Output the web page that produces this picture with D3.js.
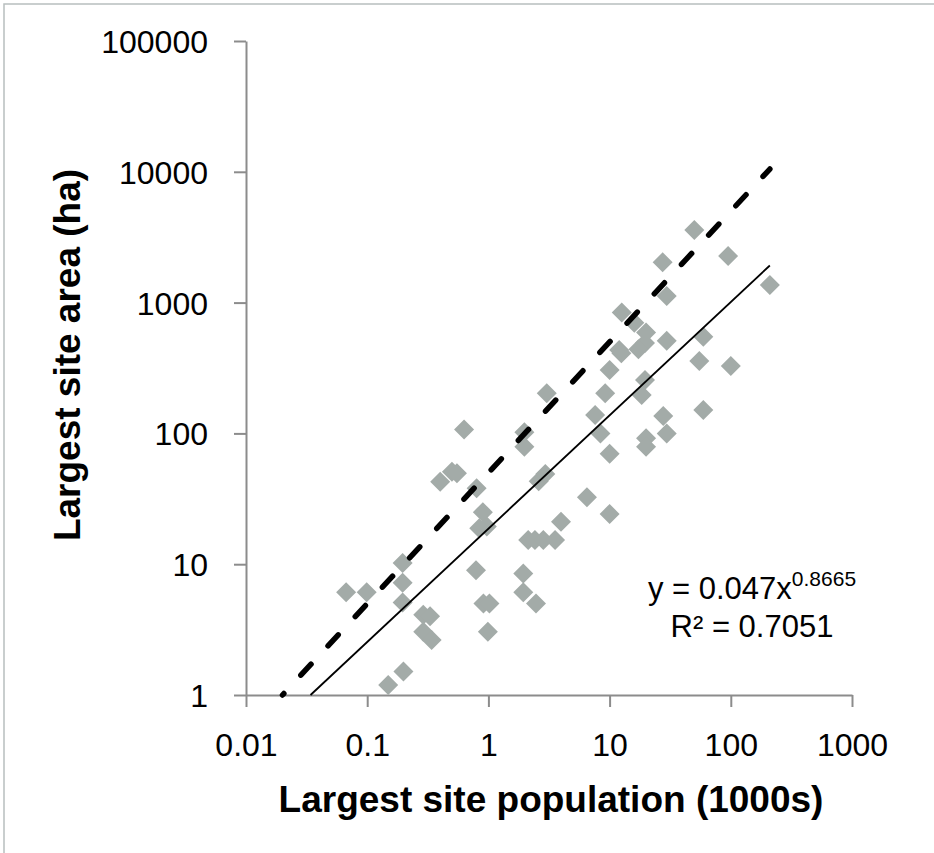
<!DOCTYPE html>
<html>
<head>
<meta charset="utf-8">
<script src="https://cdn.jsdelivr.net/npm/d3@7"></script>
<style>
  body { margin: 0; background: #fff; }
  svg { display: block; font-family: "Liberation Sans", Arial, sans-serif; }
</style>
</head>
<body>
<div id="chart"></div>
<script>
// largest site population (1000s) and area (ha)
var popX = [0.067, 0.099, 0.149, 0.199, 0.196, 0.196, 0.196, 0.29, 0.33, 0.29,
            0.34, 0.40, 0.50, 0.55, 0.63, 0.79, 0.80, 0.90, 0.97, 0.84,
            0.91, 1.02, 0.99, 1.94, 1.94, 2.47, 1.98, 1.98, 2.13, 2.42,
            2.84, 3.55, 3.97, 2.6, 2.95, 3.03, 6.5, 10, 10, 8.4,
            7.6, 9.2, 10, 12.0, 12.5, 12.6, 16, 20, 19.6, 17.3,
            18.4, 19.6, 20, 20, 27.7, 29.6, 29.6, 29.6, 27.4, 50,
            95, 210, 59.3, 55, 59.3, 100];
var areaY = [6.1, 6.1, 1.19, 1.51, 10.2, 7.2, 5.1, 4.1, 4.0, 3.05,
             2.63, 42.7, 51, 49.5, 107, 9.0, 38, 25, 19.4, 18.8,
             5.0, 5.0, 3.05, 8.5, 6.1, 5.0, 102, 79, 15.3, 15.3,
             15.3, 15.3, 21.1, 43, 49, 203, 32.5, 24.2, 70, 100,
             138, 203, 305, 434, 410, 840, 700, 590, 490, 440,
             197, 256, 92, 79, 136, 100, 511, 1123, 2033, 3590,
             2270, 1363, 549, 358, 151, 327];

var xTicks = [0.01, 0.1, 1, 10, 100, 1000];
var yTicks = [1, 10, 100, 1000, 10000, 100000];

// power fit printed on the chart (x in persons) and the 50 persons/ha reference line
var fitCoef = 0.047, fitExp = 0.8665, fitR2 = 0.7051;
var refDensity = 50;

var margin = {top: 41, right: 82, bottom: 158, left: 246};
var width = 934 - margin.left - margin.right;
var height = 853 - margin.top - margin.bottom;

var svg = d3.select("#chart").append("svg")
  .attr("width", 934).attr("height", 853);

// chart frame (only top/left edges fall inside the image)
svg.append("rect")
  .attr("x", 4).attr("y", 4).attr("width", 1000).attr("height", 1000)
  .attr("fill", "none").attr("stroke", "#b8bfbf").attr("stroke-width", 1.5);

var g = svg.append("g").attr("transform", "translate(" + margin.left + "," + margin.top + ")");

var x = d3.scaleLog().domain([0.01, 1000]).range([0, width]);
var y = d3.scaleLog().domain([1, 100000]).range([height, 0]);

var points = popX.map(function(d, i) { return {pop: d, area: areaY[i]}; });

var xAxis = g.append("g").attr("class", "x axis")
  .attr("transform", "translate(0," + height + ")")
  .call(d3.axisBottom(x).tickValues(xTicks).tickFormat(function(d) { return String(d); })
    .tickSize(12).tickSizeOuter(0).tickPadding(26));
var yAxis = g.append("g").attr("class", "y axis")
  .call(d3.axisLeft(y).tickValues(yTicks).tickFormat(d3.format("d"))
    .tickSize(12).tickSizeOuter(0).tickPadding(26));

[xAxis, yAxis].forEach(function(a) {
  a.attr("font-family", null).attr("font-size", null);
  a.selectAll("path, line").attr("stroke", "#8c8c8c").attr("stroke-width", 2);
  a.selectAll("text").attr("fill", "#000").style("font-size", "32px");
});
yAxis.selectAll("text").attr("dy", "0.36em");
xAxis.selectAll("text").attr("dy", "0.71em");

// markers
g.append("g").selectAll("path").data(points).enter().append("path")
  .attr("d", d3.symbol().type(d3.symbolSquare).size(200))
  .attr("transform", function(d) { return "translate(" + x(d.pop) + "," + y(d.area) + ") rotate(45)"; })
  .attr("fill", "#a3aba8");

var maxPop = d3.max(popX);
var line = d3.line().x(function(d) { return x(d[0]); }).y(function(d) { return y(d[1]); });

// dashed reference line: area = 50 * pop
var refStart = 1 / refDensity;
g.append("path")
  .datum([[refStart, 1], [maxPop, refDensity * maxPop]])
  .attr("d", line)
  .attr("fill", "none").attr("stroke", "#000").attr("stroke-width", 5.5)
  .attr("stroke-linecap", "round")
  .attr("stroke-dasharray", "15,25").attr("stroke-dashoffset", 13);

// power trendline
var fit = function(p) { return fitCoef * Math.pow(p * 1000, fitExp); };
var fitStart = Math.pow(1 / fitCoef, 1 / fitExp) / 1000;
g.append("path")
  .datum([[fitStart, 1], [maxPop, fit(maxPop)]])
  .attr("d", line)
  .attr("fill", "none").attr("stroke", "#000").attr("stroke-width", 1.8);

// equation label
var eq = svg.append("text").attr("x", 752).attr("y", 599)
  .attr("text-anchor", "middle").style("font-size", "31px");
eq.append("tspan").text("y = " + fitCoef + "x");
eq.append("tspan").attr("dy", -13).style("font-size", "21px").text(fitExp);
svg.append("text").attr("x", 752).attr("y", 637)
  .attr("text-anchor", "middle").style("font-size", "31px")
  .text("R\u00b2 = " + fitR2);

// axis titles
svg.append("text").attr("x", 551).attr("y", 812)
  .attr("text-anchor", "middle").style("font-size", "37px").style("font-weight", "bold")
  .text("Largest site population (1000s)");
svg.append("text").attr("transform", "translate(80,355) rotate(-90)")
  .attr("text-anchor", "middle").style("font-size", "37px").style("font-weight", "bold")
  .text("Largest site area (ha)");
</script>
</body>
</html>
